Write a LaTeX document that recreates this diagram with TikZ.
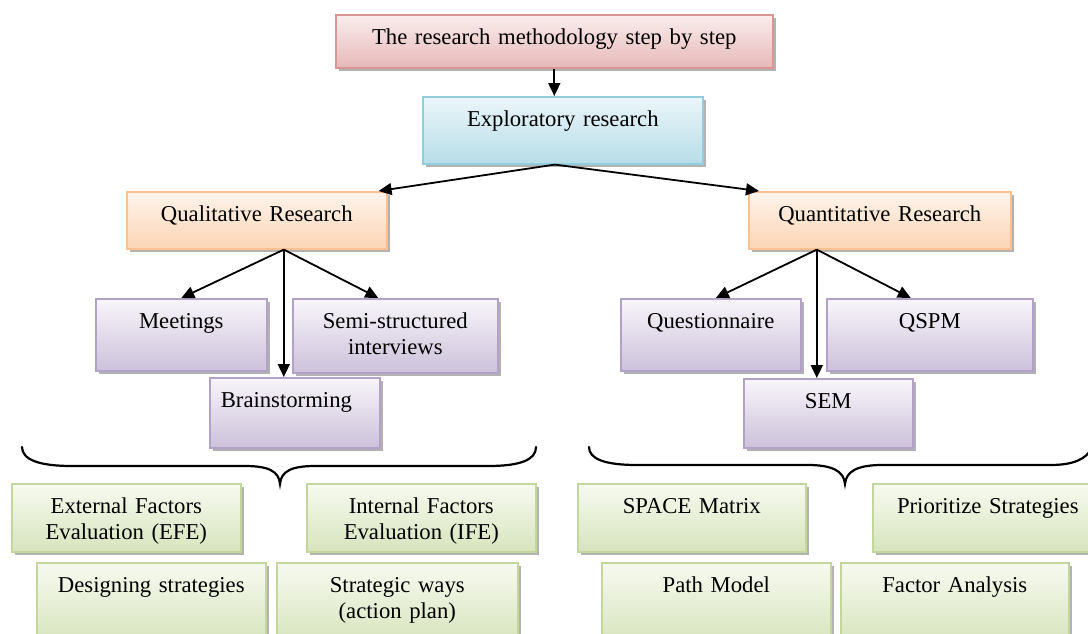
\documentclass[tikz,border=0pt]{standalone}
\usepackage{fontspec}
\setmainfont{Liberation Serif}
\usetikzlibrary{shadows,arrows.meta}
\definecolor{pinkT}{HTML}{FAEDED}
\definecolor{pinkD}{HTML}{E6B9B8}
\definecolor{pinkL}{HTML}{D99694}
\definecolor{blueT}{HTML}{EBF6F9}
\definecolor{blueD}{HTML}{B7DDE8}
\definecolor{blueL}{HTML}{93CDDD}
\definecolor{oraT}{HTML}{FEF4EC}
\definecolor{oraD}{HTML}{FBD5B5}
\definecolor{oraL}{HTML}{FAC08F}
\definecolor{purT}{HTML}{F8F5FA}
\definecolor{purD}{HTML}{CCC1DA}
\definecolor{purL}{HTML}{B3A2C7}
\definecolor{grnT}{HTML}{F7FAF0}
\definecolor{grnD}{HTML}{D7E4BD}
\definecolor{grnL}{HTML}{C3D69B}
\begin{document}
\begin{tikzpicture}[x=1pt,y=-1pt,
  bx/.style={draw, line width=1.6pt, anchor=north west, inner xsep=4pt, inner ysep=0pt,
    align=center, text height=30pt,
    font=\fontsize{22.7}{25.5}\selectfont,
    drop shadow={shadow xshift=3pt, shadow yshift=-3pt, fill=black!50, opacity=0.6}},
  pinkbox/.style={bx, draw=pinkL, top color=pinkT, bottom color=pinkD},
  bluebox/.style={bx, draw=blueL, top color=blueT, bottom color=blueD},
  orabox/.style={bx, draw=oraL, top color=oraT, bottom color=oraD},
  purbox/.style={bx, draw=purL, top color=purT, bottom color=purD},
  grnbox/.style={bx, draw=grnL, top color=grnT, bottom color=grnD},
  arr/.style={-{Triangle[length=13pt,width=12pt]}, line width=1.8pt},
  brace/.style={line width=2.2pt, line cap=round}]
\clip (0,0) rectangle (1088,633);
\fill[white] (0,0) rectangle (1088,633);

% boxes
\node[pinkbox, text width=429pt, text depth=23pt] (top) at (335,14) {The research methodology step by step};
\node[bluebox, text width=272pt, text depth=37pt] (expl) at (422,96) {Exploratory research};
\node[orabox, text width=252pt, text depth=27pt] (qual) at (126,191) {Qualitative Research};
\node[orabox, text width=254pt, text depth=27pt] (quant) at (748,191) {Quantitative Research};

\node[purbox, text width=163pt, text depth=42pt] (meet) at (95,298) {Meetings};
\node[purbox, text width=197pt, text depth=44pt] (semi) at (292,298) {Semi-structured\\interviews};
\node[purbox, text width=148pt, inner xsep=11pt, align=left, text depth=40pt] (brain) at (209,377) {Brainstorming};

\node[purbox, text width=172pt, text depth=42pt] (quest) at (620,298) {Questionnaire};
\node[purbox, text width=198pt, text depth=42pt] (qspm) at (826,298) {QSPM};
\node[purbox, text width=161pt, text depth=39pt] (sem) at (743,378) {SEM};

\node[grnbox, text width=221pt, text depth=38pt] (efe) at (11,483) {External Factors\\Evaluation (EFE)};
\node[grnbox, text width=221pt, text depth=38pt] (ife) at (306,483) {Internal Factors\\Evaluation (IFE)};
\node[grnbox, text width=221pt, text depth=50pt] (design) at (36,562) {Designing strategies};
\node[grnbox, text width=233pt, text depth=50pt] (strat) at (276,562) {Strategic ways\\(action plan)};

\node[grnbox, text width=220pt, text depth=38pt] (space) at (577,483) {SPACE Matrix};
\node[grnbox, text width=222pt, text depth=38pt] (prior) at (872,483) {Prioritize Strategies};
\node[grnbox, text width=221pt, text depth=50pt] (path) at (601,562) {Path Model};
\node[grnbox, text width=220pt, text depth=50pt] (factor) at (840,562) {Factor Analysis};

% connector points
\coordinate (hub) at ([xshift=-8pt]expl.south);
\coordinate (qualS) at ([xshift=27pt]qual.south);
\coordinate (quantS) at ([xshift=-63pt]quant.south);

% arrows
\draw[arr] (top.south) -- (top.south |- expl.north);
\draw[arr] (hub) -- ([xshift=-9pt]qual.north east);
\draw[arr] (hub) -- ([xshift=11pt]quant.north west);
\draw[arr] (qualS) -- (meet.north);
\draw[arr] (qualS) -- ([xshift=-17pt]semi.north);
\draw[arr] (qualS) -- (qualS |- brain.north);
\draw[arr] (quantS) -- ([xshift=5pt]quest.north);
\draw[arr] (quantS) -- ([xshift=-19pt]qspm.north);
\draw[arr] (quantS) -- (quantS |- sem.north);

% braces
\draw[brace] (22,447) .. controls (22,460) and (40,466) .. (72,466) -- (245,466)
  .. controls (268,466) and (279,471) .. (280,484)
  .. controls (281,471) and (292,466) .. (315,466) -- (488,466)
  .. controls (520,466) and (536,460) .. (536,447);
\draw[brace] (589,447) .. controls (589,459) and (605,465) .. (637,465) -- (808,465)
  .. controls (832,465) and (844,471) .. (845,484)
  .. controls (846,471) and (858,465) .. (882,465) -- (1050,465)
  .. controls (1074,465) and (1086,459) .. (1092,448);
\end{tikzpicture}
\end{document}
